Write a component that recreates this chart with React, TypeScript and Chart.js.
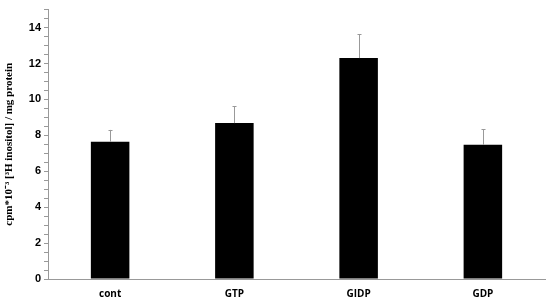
import React, { useEffect, useRef } from "react";
import { Chart, registerables } from "chart.js";

Chart.register(...registerables);

const categories = ["cont", "GTP", "GIDP", "GDP"];
const values = [7.64, 8.68, 12.3, 7.47];
const errors = [0.66, 0.93, 1.32, 0.88];
const yLabel = "cpm*10\u207B\u00B3 [\u00B3H inositol] / mg protein";

const errorBarPlugin = {
  id: "errorBars",
  afterDatasetsDraw(chart: any) {
    const ctx = chart.ctx;
    const meta = chart.getDatasetMeta(0);
    const yScale = chart.scales.y;
    ctx.save();
    ctx.strokeStyle = "#999999";
    ctx.lineWidth = 1;
    meta.data.forEach((bar: any, i: number) => {
      const x = Math.round(bar.x) + 0.5;
      const yTop = yScale.getPixelForValue(values[i]);
      const yErr = yScale.getPixelForValue(values[i] + errors[i]);
      ctx.beginPath();
      ctx.moveTo(x, yTop);
      ctx.lineTo(x, yErr);
      ctx.moveTo(x - 2, Math.round(yErr) + 0.5);
      ctx.lineTo(x + 2, Math.round(yErr) + 0.5);
      ctx.stroke();
    });
    ctx.restore();
  },
};

export default function App() {
  const ref = useRef<HTMLCanvasElement>(null);
  useEffect(() => {
    document.body.style.margin = "0";
    const chart = new Chart(ref.current!, {
      type: "bar",
      data: {
        labels: categories,
        datasets: [
          {
            data: values,
            backgroundColor: "#000000",
            borderWidth: 0,
            barPercentage: 0.62,
            categoryPercentage: 0.5,
          },
        ],
      },
      options: {
        responsive: false,
        animation: false,
        layout: { padding: { top: 5, right: 5, left: 0, bottom: 0 } },
        plugins: { legend: { display: false }, tooltip: { enabled: false } },
        scales: {
          x: {
            grid: { display: false },
            border: { display: true, color: "#999999", width: 1 },
            ticks: {
              color: "#000000",
              font: { family: "Open Sans", size: 10, weight: "bold" },
              padding: 1,
            },
            afterFit(scale: any) {
              scale.height = 22;
            },
          },
          y: {
            min: 0,
            max: 15,
            border: { display: true, color: "#999999", width: 1 },
            grid: {
              drawOnChartArea: false,
              drawTicks: true,
              tickLength: 4,
              color: "#999999",
            },
            ticks: {
              stepSize: 0.5,
              autoSkip: false,
              color: "#000000",
              padding: 3,
              font: { family: "Liberation Sans", size: 11, weight: "bold" },
              callback: (v: any) => (Number(v) % 2 === 0 && Number(v) <= 14 ? String(v) : ""),
            },
            title: {
              display: true,
              text: yLabel,
              color: "#000000",
              font: { family: "Liberation Serif", size: 11, weight: "bold" },
              padding: { top: 3, bottom: 0 },
            },
            afterFit(scale: any) {
              scale.width = 48;
            },
          },
        },
      },
      plugins: [errorBarPlugin],
    });
    return () => chart.destroy();
  }, []);
  return <canvas ref={ref} width={550} height={301} />;
}
